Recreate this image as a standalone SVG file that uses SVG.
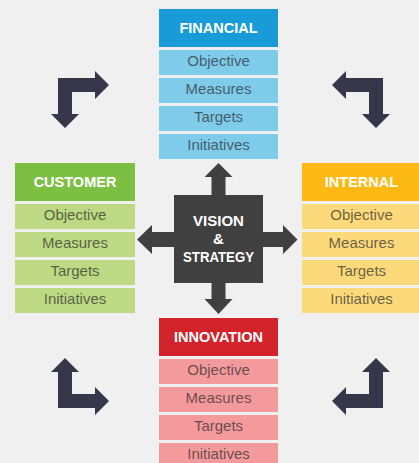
<svg xmlns="http://www.w3.org/2000/svg" width="419" height="463" viewBox="0 0 419 463">
<style>
.hd{font-family:"Liberation Sans",Arial,sans-serif;font-weight:bold;font-size:14.5px;fill:#fff;text-anchor:middle}
.rw{font-family:"Liberation Sans",Arial,sans-serif;font-size:15px;fill:#2a2a2a;fill-opacity:0.7;text-anchor:middle}
.ct{font-family:"Liberation Sans",Arial,sans-serif;font-weight:bold;font-size:15px;fill:#fff;text-anchor:middle}
.corner{fill:#38364a}
.center{fill:#404041}
</style>
<defs>
<path id="cornerTL" d="M58,78 L95,78 L95,71 L109,85 L95,99 L95,92 L72,92 L72,114 L79,114 L65,128 L51,114 L58,114 Z"/>
</defs>
<rect width="419" height="463" fill="#f0f0f0"/>

<g id="connectors">
<use href="#cornerTL" class="corner"/>
<use href="#cornerTL" class="corner" transform="translate(441,0) scale(-1,1)"/>
<use href="#cornerTL" class="corner" transform="translate(0,486) scale(1,-1)"/>
<use href="#cornerTL" class="corner" transform="translate(441,486) scale(-1,-1)"/>
<path class="center" d="M211.5,195 L211.5,177 L204.5,177 L218.5,163 L232.5,177 L225.5,177 L225.5,195 Z"/>
<path class="center" d="M211.5,283 L211.5,299 L204.5,299 L218.5,314 L232.5,299 L225.5,299 L225.5,283 Z"/>
<path class="center" d="M174,232 L152,232 L152,225 L137,239.5 L152,254 L152,247 L174,247 Z"/>
<path class="center" d="M263,232 L283,232 L283,225 L297.5,239.5 L283,254 L283,247 L263,247 Z"/>
</g>

<g id="vision">
<rect x="174" y="195" width="89" height="88" class="center"/>
<text class="ct" x="218.5" y="225.5" textLength="51" lengthAdjust="spacingAndGlyphs">VISION</text>
<text class="ct" x="218.5" y="243.5">&amp;</text>
<text class="ct" x="218.5" y="261.5" textLength="71" lengthAdjust="spacingAndGlyphs">STRATEGY</text>
</g>

<g id="financial">
<rect x="159" y="9" width="119" height="38" fill="#199bd7"/>
<text class="hd" x="218.5" y="33">FINANCIAL</text>
<rect x="159" y="50" width="119" height="25" fill="#7fcbea"/>
<rect x="159" y="78" width="119" height="25" fill="#7fcbea"/>
<rect x="159" y="106" width="119" height="25" fill="#7fcbea"/>
<rect x="159" y="134" width="119" height="25" fill="#7fcbea"/>
<text class="rw" x="218.5" y="66">Objective</text>
<text class="rw" x="218.5" y="94">Measures</text>
<text class="rw" x="218.5" y="122">Targets</text>
<text class="rw" x="218.5" y="150">Initiatives</text>
</g>

<g id="customer">
<rect x="15" y="163" width="120" height="38" fill="#7cbf42"/>
<text class="hd" x="75" y="187">CUSTOMER</text>
<rect x="15" y="204" width="120" height="25" fill="#bdd983"/>
<rect x="15" y="232" width="120" height="25" fill="#bdd983"/>
<rect x="15" y="260" width="120" height="25" fill="#bdd983"/>
<rect x="15" y="288" width="120" height="25" fill="#bdd983"/>
<text class="rw" x="75" y="220">Objective</text>
<text class="rw" x="75" y="248">Measures</text>
<text class="rw" x="75" y="276">Targets</text>
<text class="rw" x="75" y="304">Initiatives</text>
</g>

<g id="internal">
<rect x="302" y="163" width="119" height="38" fill="#fdb913"/>
<text class="hd" x="361.5" y="187">INTERNAL</text>
<rect x="302" y="204" width="119" height="25" fill="#fcd97b"/>
<rect x="302" y="232" width="119" height="25" fill="#fcd97b"/>
<rect x="302" y="260" width="119" height="25" fill="#fcd97b"/>
<rect x="302" y="288" width="119" height="25" fill="#fcd97b"/>
<text class="rw" x="361.5" y="220">Objective</text>
<text class="rw" x="361.5" y="248">Measures</text>
<text class="rw" x="361.5" y="276">Targets</text>
<text class="rw" x="361.5" y="304">Initiatives</text>
</g>

<g id="innovation">
<rect x="159" y="318" width="119" height="38" fill="#d2232a"/>
<text class="hd" x="218.5" y="342">INNOVATION</text>
<rect x="159" y="359" width="119" height="25" fill="#f49a9d"/>
<rect x="159" y="387" width="119" height="25" fill="#f49a9d"/>
<rect x="159" y="415" width="119" height="25" fill="#f49a9d"/>
<rect x="159" y="443" width="119" height="25" fill="#f49a9d"/>
<text class="rw" x="218.5" y="375">Objective</text>
<text class="rw" x="218.5" y="403">Measures</text>
<text class="rw" x="218.5" y="431">Targets</text>
<text class="rw" x="218.5" y="459">Initiatives</text>
</g>
</svg>
